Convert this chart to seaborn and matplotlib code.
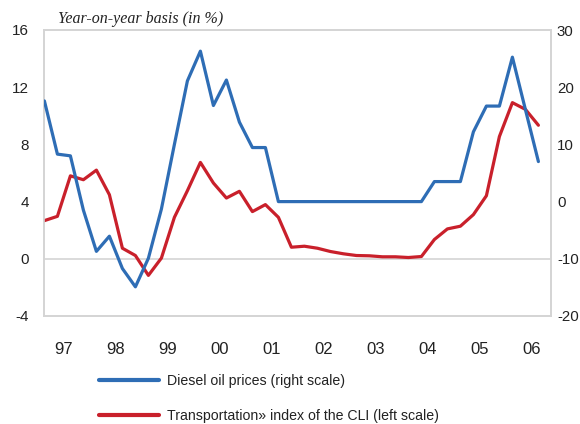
import numpy as np
import pandas as pd
import matplotlib
matplotlib.use("Agg")
import matplotlib.pyplot as plt
import seaborn as sns
from matplotlib.lines import Line2D
from matplotlib.ticker import MultipleLocator, FixedLocator

# ---- data (quarterly, 1997Q1 .. 2006Q3) ----
year_labels = ["97", "98", "99", "00", "01", "02", "03", "04", "05", "06"]
diesel_right = [17.6, 8.3, 8.0, -1.5, -8.7, -6.05, -11.7, -14.9, -9.9, -1.3,
                10.0, 21.1, 26.3, 16.8, 21.25, 13.9, 9.45, 9.45,
                0, 0, 0, 0, 0, 0, 0, 0, 0, 0, 0, 0,
                3.5, 3.5, 3.5, 12.2, 16.7, 16.7, 25.25, 16.1, 7.0]
transport_left = [2.67, 2.97, 5.8, 5.53, 6.2, 4.48, 0.74, 0.23, -1.16, 0.05,
                  2.9, 4.76, 6.74, 5.3, 4.25, 4.72, 3.3, 3.79, 2.9, 0.81,
                  0.88, 0.74, 0.51, 0.35, 0.23, 0.21, 0.14, 0.14, 0.09, 0.16,
                  1.35, 2.09, 2.28, 3.09, 4.41, 8.55, 10.92, 10.45, 9.34]
left_ticks = [-4, 0, 4, 8, 12, 16]
right_ticks = [-20, -10, 0, 10, 20, 30]
title_text = "Year-on-year basis (in %)"
label_diesel = "Diesel oil prices (right scale)"
label_transport = "Transportation» index of the CLI (left scale)"

df = pd.DataFrame({
    "q": np.arange(len(diesel_right)),
    "diesel": diesel_right,
    "transport": transport_left,
})

sns.set_theme(style="white")
plt.rcParams["font.family"] = ["Liberation Sans", "DejaVu Sans"]
plt.rcParams["axes.unicode_minus"] = False

BLUE = "#2e6db5"
RED = "#c9202b"
GREY = "#d4d4d4"
TXT = "#222222"

fig = plt.figure(figsize=(5.8, 4.24), dpi=100)
ax = fig.add_axes([44.4 / 580, 1 - 316 / 424, (551.4 - 44.4) / 580, (316 - 30) / 424])
ax2 = ax.twinx()

ax.axhline(0, color=GREY, lw=1.2, zorder=1)
sns.lineplot(data=df, x="q", y="transport", ax=ax, color=RED, lw=2.3, zorder=3)
sns.lineplot(data=df, x="q", y="diesel", ax=ax2, color=BLUE, lw=2.3, zorder=3)

ax.set_xlim(0, 39)
ax.set_ylim(-4, 16)
ax2.set_ylim(-20, 30)
ax.set_yticks(left_ticks)
ax2.set_yticks(right_ticks)
ax.set_xlabel("")
ax.set_ylabel("")
ax2.set_ylabel("")

for a in (ax, ax2):
    for s in a.spines.values():
        s.set_color(GREY)
        s.set_linewidth(1.2)
ax.tick_params(axis="y", length=0, pad=11, labelsize=11, labelcolor=TXT)
ax2.tick_params(axis="y", length=0, pad=4, labelsize=10.8, labelcolor=TXT)

# x tick marks: year boundaries (long) and quarters (short)
ax.xaxis.set_major_locator(FixedLocator(list(range(0, 40, 4)) + [39]))
ax.xaxis.set_minor_locator(MultipleLocator(1))
ax.tick_params(axis="x", which="major", length=10, width=1.2, color=GREY,
               labelbottom=False, direction="out")
ax.tick_params(axis="x", which="minor", length=6, width=1.0, color=GREY,
               direction="out")

sec = ax.secondary_xaxis("bottom")
sec.set_xticks([1.5 + 4 * k for k in range(len(year_labels))], year_labels)
sec.tick_params(length=0, pad=19, labelsize=12, labelcolor=TXT)
sec.spines["bottom"].set_visible(False)

fig.text(58 / 580, 1 - 19 / 424, title_text, family=["Liberation Serif", "DejaVu Serif"],
         style="italic", fontsize=11.5, color=TXT, va="center", ha="left")

handles = [Line2D([], [], color=BLUE, lw=3), Line2D([], [], color=RED, lw=3)]
fig.legend(handles, [label_diesel, label_transport], loc="upper left",
           bbox_to_anchor=(99 / 580, 1 - 374 / 424), frameon=False, fontsize=10.2,
           handlelength=4.2, handletextpad=0.6, labelspacing=1.45,
           labelcolor=TXT, borderpad=0, borderaxespad=0)

fig.savefig("out.png", dpi=100)
